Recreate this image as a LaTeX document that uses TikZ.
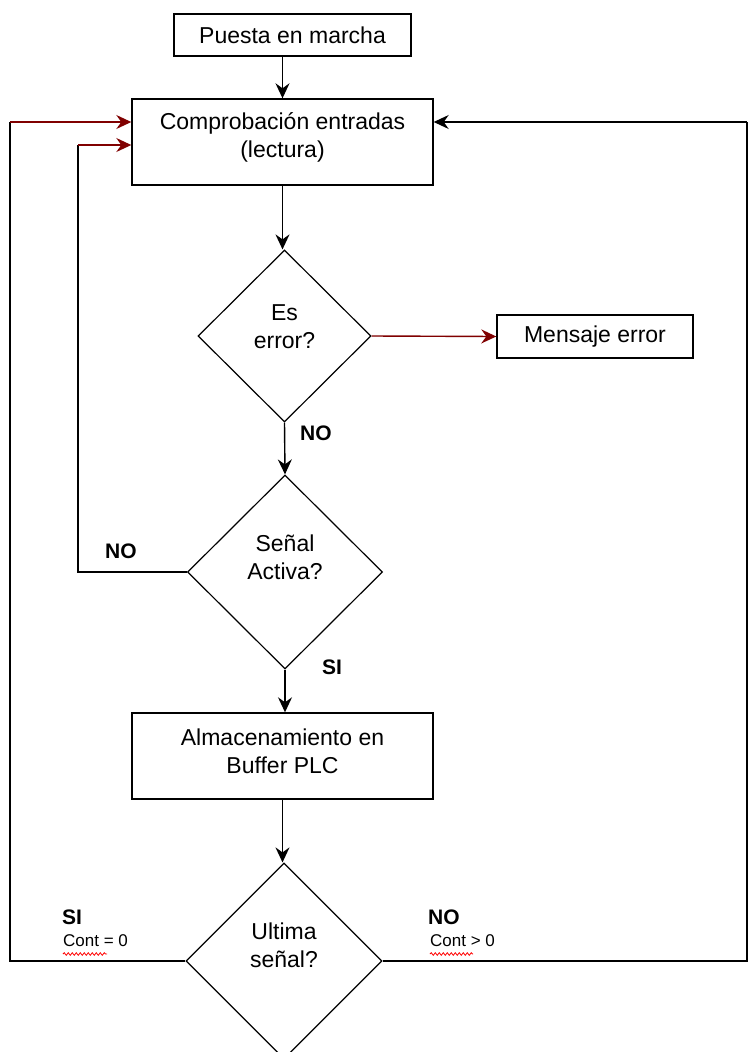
\documentclass[tikz,border=0pt]{standalone}
\usepackage{fontspec}
\setmainfont{Liberation Sans}
\usetikzlibrary{shapes.geometric,arrows.meta,decorations.pathmorphing}
\definecolor{dred}{RGB}{128,0,0}
\begin{document}
\begin{tikzpicture}[x=1pt,y=-1pt,
  every node/.style={font=\fontsize{23}{28}\selectfont},
  box/.style={draw,line width=1.4pt,inner sep=0pt,align=center},
  dia/.style={draw,diamond,line width=1.2pt,inner sep=0pt},
  txt/.style={align=center,inner sep=0pt},
  conn/.style={line width=1.4pt},
  arr/.style={conn,-{Stealth[length=15pt,width=14pt,inset=5pt]}},
  rarr/.style={arr,draw=dred,fill=dred},
  lbl/.style={font=\fontsize{21}{24}\selectfont\bfseries,inner sep=0pt,anchor=north west},
  sml/.style={font=\fontsize{17}{19}\selectfont,inner sep=0pt,anchor=north west},
  squig/.style={draw=red,line width=0.8pt,decorate,decoration={snake,amplitude=1.3pt,segment length=4pt}}]
\useasboundingbox (0,0) rectangle (748,1052);
\begin{scope}
\clip (0,0) rectangle (748,1052);
% nodes
\node[box,minimum width=237pt,minimum height=42pt] (p) at (292.5,35) {Puesta en marcha};
\node[box,minimum width=301pt,minimum height=86pt] (c) at (282.5,142) {};
\node[txt] (ct) at ([yshift=5pt]c.center) {Comprobación entradas\\(lectura)};
\node[dia,minimum width=173pt,minimum height=172pt] (e) at (284.5,336) {};
\node[txt] (et) at ([yshift=9pt]e.center) {Es\\error?};
\node[box,minimum width=196pt,minimum height=43pt] (m) at (595,336.5) {Mensaje error};
\node[dia,minimum width=195pt,minimum height=194pt] (s) at (285,572) {};
\node[txt] (st) at ([yshift=15pt]s.center) {Señal\\Activa?};
\node[box,minimum width=301pt,minimum height=86pt] (a) at (282.5,756) {};
\node[txt] (at) at ([yshift=5pt]a.center) {Almacenamiento en\\Buffer PLC};
\node[dia,minimum width=196pt,minimum height=196pt] (u) at (284,961) {};
\node[txt] (ut) at ([yshift=16pt]u.center) {Ultima\\señal?};
% helper coordinates
\coordinate (nL) at (78,572);
\coordinate (nT) at (78,145);
\coordinate (sL) at (10,961);
\coordinate (sT) at (10,122);
\coordinate (rB) at (747,961);
\coordinate (rT) at (747,122);
% connectors
\draw[arr] (p.south -| c.north) -- (c.north);
\draw[arr] (c.south) -- (e.north -| c.south);
\draw[rarr] (e.east) -- (m.west);
\draw[arr] (e.south) -- (s.north);
\draw[conn] (s.west) -- (nL) -- (nT);
\draw[rarr] (nT) -- (nT -| c.west);
\draw[arr] (s.south) -- (a.north -| s.south);
\draw[arr] (a.south) -- (u.north -| a.south);
\draw[conn] (u.west) -- (sL) -- (sT);
\draw[rarr] (sT) -- (sT -| c.west);
\draw[conn] (u.east) -- (rB) -- (rT);
\draw[arr] (rT) -- (rT -| c.east);
% labels
\node[lbl] (lno1) at (300,426) {NO};
\node[lbl] (lno2) at (105,544) {NO};
\node[lbl] (lsi1) at (322,660) {SI};
\node[lbl] (lsi2) at (62,910) {SI};
\node[sml] (lc0) at (63,934) {Cont = 0};
\node[lbl] (lno3) at (428,910) {NO};
\node[sml] (lc1) at (430,934) {Cont > 0};
\draw[squig] (63,954) -- (107,954);
\draw[squig] (430,954) -- (473,954);
\end{scope}
\end{tikzpicture}
\end{document}
